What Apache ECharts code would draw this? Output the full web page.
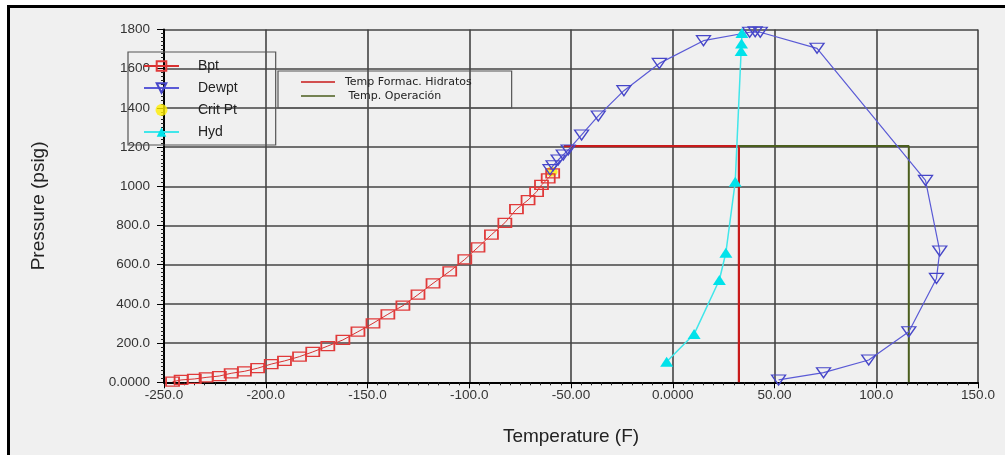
<!DOCTYPE html>
<html>
<head>
<meta charset="utf-8">
<script src="https://cdn.jsdelivr.net/npm/echarts@6/dist/echarts.min.js"></script>
<style>
  html, body { margin: 0; padding: 0; background: #ffffff; }
  #frame {
    position: absolute; left: 7px; top: 5px; width: 998px; height: 450px;
    border-top: 3px solid #000; border-left: 3px solid #000; box-sizing: border-box;
  }
  #chart { position: absolute; left: 10px; top: 8px; width: 995px; height: 447px; background: #f0f0f0; }
</style>
</head>
<body>
<div id="frame"></div>
<div id="chart"></div>
<script>
// curva de burbuja (Bpt)
var bptT = [-245.8, -241.6, -235.1, -229.3, -222.8, -217.0, -210.5, -204.0, -197.3, -190.8, -183.4, -176.9, -169.5, -162.1, -154.7, -147.3, -140.0, -132.6, -125.2, -117.8, -109.6, -102.2, -95.7, -89.1, -82.5, -76.8, -71.1, -66.9, -64.5, -61.2, -59.0];
var bptP = [3, 12, 17, 25, 32, 46, 56, 72, 93, 109, 131, 155, 185, 216, 258, 301, 347, 391, 447, 505, 566, 627, 689, 753, 814, 883, 930, 972, 1007, 1041, 1066];
// curva de rocio (Dewpt)
var dewT = [-60.3, -58.8, -56.3, -53.8, -51.4, -44.8, -36.6, -24.0, -6.6, 15.1, 37.8, 40.5, 43.0, 70.9, 124.2, 131.2, 129.6, 116.0, 96.3, 74.1, 52.0];
var dewP = [1085, 1105, 1134, 1160, 1185, 1262, 1359, 1488, 1627, 1743, 1786, 1788, 1786, 1704, 1030, 670, 530, 258, 114, 49, 12];
// punto critico
var critT = [-59.5];
var critP = [1074];
// hidratos (Hyd)
var hydT = [-3.0, 10.5, 22.9, 26.1, 30.7, 33.6, 33.8, 34.0];
var hydP = [105, 246, 522, 661, 1023, 1690, 1729, 1782];
// lineas de temperatura
var formacT = [-53.5, 32.5, 32.5];
var formacP = [1205, 1205, 0];
var operT = [32.5, 116, 116];
var operP = [1205, 1205, 0];
// etiquetas de ejes
var xTicks = [-250, -200, -150, -100, -50, 0, 50, 100, 150];
var xTickLabels = ['-250.0', '-200.0', '-150.0', '-100.0', '-50.00', '0.0000', '50.00', '100.0', '150.0'];
var yTicks = [0, 200, 400, 600, 800, 1000, 1200, 1400, 1600, 1800];
var yTickLabels = ['0.0000', '200.0', '400.0', '600.0', '800.0', '1000', '1200', '1400', '1600', '1800'];

function pairs(xs, ys) {
  return xs.map(function (x, i) { return [x, ys[i]]; });
}

var chart = echarts.init(document.getElementById('chart'));
var font = "'Liberation Sans', Arial, sans-serif";

chart.setOption({
  backgroundColor: '#f0f0f0',
  animation: false,
  textStyle: { fontFamily: font },
  grid: { left: 154, right: 27, top: 21.5, bottom: 72.7, show: false },
  legend: [{
    data: ['Bpt', 'Dewpt', 'Crit Pt', 'Hyd'],
    orient: 'vertical',
    left: 118, top: 44,
    padding: [7, 38, 6, 15],
    itemWidth: 35, itemHeight: 12, itemGap: 8,
    borderColor: '#555', borderWidth: 1.2,
    textStyle: { fontSize: 14, color: '#222', lineHeight: 14, padding: [0, 0, 0, 14] }
  }, {
    data: ['Temp Formac. Hidratos', ' Temp. Operación'],
    orient: 'vertical',
    icon: 'rect',
    left: 268, top: 63,
    padding: [5, 40, 6, 23],
    itemWidth: 34, itemHeight: 1.5, itemGap: 2,
    borderColor: '#555', borderWidth: 1.2,
    textStyle: { fontSize: 11, fontFamily: 'DejaVu Sans', color: '#222', lineHeight: 12, padding: [0, 0, 0, 5] }
  }],
  xAxis: {
    type: 'value', min: -250, max: 150, interval: 50,
    name: 'Temperature (F)', nameLocation: 'middle', nameGap: 45,
    nameTextStyle: { fontSize: 19, color: '#222' },
    axisLine: { onZero: false, lineStyle: { color: '#000', width: 2 } },
    axisTick: { length: 6, lineStyle: { color: '#000' } },
    minorTick: { show: true, splitNumber: 10, length: 3, lineStyle: { color: '#222' } },
    axisLabel: {
      fontSize: 13.5, color: '#333', margin: 6,
      formatter: function (v) { var i = xTicks.indexOf(v); return i >= 0 ? xTickLabels[i] : ''; }
    },
    splitLine: { show: true, lineStyle: { color: '#444', width: 1.6 } }
  },
  yAxis: {
    type: 'value', min: 0, max: 1800, interval: 200,
    name: 'Pressure (psig)', nameLocation: 'middle', nameGap: 116,
    nameTextStyle: { fontSize: 19, color: '#222' },
    axisLine: { onZero: false, lineStyle: { color: '#000', width: 2 } },
    axisTick: { length: 7, lineStyle: { color: '#000' } },
    minorTick: { show: true, splitNumber: 10, length: 3, lineStyle: { color: '#222' } },
    axisLabel: {
      fontSize: 13.5, color: '#333', margin: 14,
      formatter: function (v) { var i = yTicks.indexOf(v); return i >= 0 ? yTickLabels[i] : ''; }
    },
    splitLine: { show: true, lineStyle: { color: '#444', width: 1.6 } }
  },
  series: [{
    name: 'Bpt', type: 'line', data: pairs(bptT, bptP),
    symbol: 'rect', symbolSize: [13, 9],
    itemStyle: { color: 'transparent', borderColor: '#e03a3a', borderWidth: 1.5 },
    lineStyle: { color: '#d83030', width: 1 }
  }, {
    name: 'Dewpt', type: 'line', data: pairs(dewT, dewP),
    symbol: 'triangle', symbolRotate: 180, symbolSize: [14, 10],
    itemStyle: { color: 'transparent', borderColor: '#4646c8', borderWidth: 1.3 },
    lineStyle: { color: '#5a5ad6', width: 1.2 }
  }, {
    name: 'Crit Pt', type: 'scatter', data: pairs(critT, critP),
    symbol: 'circle', symbolSize: [12, 10],
    itemStyle: { color: '#ffee00' }
  }, {
    name: 'Hyd', type: 'line', data: pairs(hydT, hydP),
    symbol: 'triangle', symbolSize: [13, 10],
    itemStyle: { color: '#00e2ea' },
    lineStyle: { color: '#40e6ea', width: 1.5 }
  }, {
    name: 'Temp Formac. Hidratos', type: 'line', data: pairs(formacT, formacP),
    symbol: 'none', z: 1,
    itemStyle: { color: '#c81a1a' },
    lineStyle: { color: '#c81a1a', width: 2.2 }
  }, {
    name: ' Temp. Operación', type: 'line', data: pairs(operT, operP),
    symbol: 'none', z: 1,
    itemStyle: { color: '#4b5e1e' },
    lineStyle: { color: '#4b5e1e', width: 2 }
  }]
});
</script>
</body>
</html>
